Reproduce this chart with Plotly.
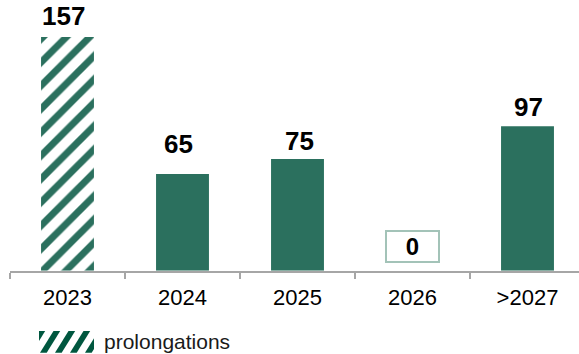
import plotly.graph_objects as go

# ---- data ----
years = ["2023", "2024", "2025", "2026", ">2027"]
volumes = [157, 65, 75, 0, 97]
hatch = ["/", "", "", "", ""]
legend_label = "prolongations"

# ---- layout constants (pixels) ----
W, H = 579, 354
LEFT = 10            # left edge of the category axis
CAT_W = 115          # width of one category slot
AXIS_Y = 270.7       # baseline of the bars
TOP_VAL_PX = 37      # where the tallest bar ends
GREEN = "#2B705E"
DARK_GREEN = "#00573F"
AXIS_GREY = "#A6A6A6"
ZERO_BOX = "#A3C3B8"

# per-label nudges for the value labels
label_dy = [4, 13, 1, 7.5, 2]
label_dx = [-4, -4, 2, 0, 1]

y_top = max(volumes) * AXIS_Y / (AXIS_Y - TOP_VAL_PX)
x_span = (W - LEFT) / CAT_W

fig = go.Figure(
    go.Bar(
        x=years,
        y=volumes,
        width=0.46,
        marker=dict(
            color=GREEN,
            line=dict(width=0),
            pattern=dict(shape=hatch, size=16.5, solidity=0.42,
                         fgcolor=GREEN, bgcolor="white", fgopacity=1),
        ),
        hoverinfo="skip",
        showlegend=False,
    )
)

# value labels (x given as category index so "2023" is not read as a number)
for i, val in enumerate(volumes):
    if val == 0:
        fig.add_annotation(
            x=i, y=0, xref="x", yref="y", text=str(val), showarrow=False,
            yanchor="bottom", xanchor="center", yshift=label_dy[i], xshift=label_dx[i],
            font=dict(family="Liberation Sans, Arial", size=24, color="black", weight="bold"),
            bordercolor=ZERO_BOX, borderwidth=2, borderpad=1, width=49, height=27,
            bgcolor="white",
        )
    else:
        fig.add_annotation(
            x=i, y=val, xref="x", yref="y", text=str(val), showarrow=False,
            yanchor="bottom", xanchor="center", yshift=label_dy[i], xshift=label_dx[i],
            font=dict(family="Liberation Sans, Arial", size=26, color="black", weight="bold"),
        )


# ---- legend key: hatched swatch built from clipped stripes ----
def clip_poly(pts, x0, y0, x1, y1):
    def clip(points, inside, inter):
        out = []
        n = len(points)
        for k in range(n):
            cur, prev = points[k], points[k - 1]
            if inside(cur):
                if not inside(prev):
                    out.append(inter(prev, cur))
                out.append(cur)
            elif inside(prev):
                out.append(inter(prev, cur))
        return out

    def ix(xc):
        return lambda a, b: (xc, a[1] + (b[1] - a[1]) * (xc - a[0]) / (b[0] - a[0]))

    def iy(yc):
        return lambda a, b: (a[0] + (b[0] - a[0]) * (yc - a[1]) / (b[1] - a[1]), yc)

    pts = clip(pts, lambda p: p[0] >= x0, ix(x0)) if pts else pts
    pts = clip(pts, lambda p: p[0] <= x1, ix(x1)) if pts else pts
    pts = clip(pts, lambda p: p[1] >= y0, iy(y0)) if pts else pts
    pts = clip(pts, lambda p: p[1] <= y1, iy(y1)) if pts else pts
    return pts


sw_x0, sw_x1, sw_y0, sw_y1 = 39, 94, 331, 352.7
period, stripe_w = 15, 6.7
lean = 13.5  # horizontal shift from bottom to top of the swatch
for k in range(-2, 5):
    u = 40 + period * k
    poly = [(u, sw_y1), (u + stripe_w, sw_y1),
            (u + stripe_w + lean, sw_y0), (u + lean, sw_y0)]
    poly = clip_poly(poly, sw_x0, sw_y0, sw_x1, sw_y1)
    if len(poly) < 3:
        continue
    path = "M" + "L".join(f"{px / W:.5f},{1 - py / H:.5f}" for px, py in poly) + "Z"
    fig.add_shape(type="path", path=path, xref="paper", yref="paper",
                  fillcolor=DARK_GREEN, line=dict(width=0), layer="above")

fig.add_annotation(
    x=101.5 / W, y=1 - 341.5 / H, xref="paper", yref="paper", text=legend_label,
    showarrow=False, xanchor="left", yanchor="middle",
    font=dict(family="Liberation Sans, Arial", size=21, color="#1a1a1a"),
)

fig.update_layout(
    width=W, height=H,
    margin=dict(l=0, r=0, t=0, b=0),
    paper_bgcolor="white", plot_bgcolor="white",
    bargap=0.54,
    xaxis=dict(
        domain=[LEFT / W, 1],
        range=[-0.5, -0.5 + x_span],
        type="category",
        showline=True, linecolor=AXIS_GREY, linewidth=2,
        ticks="outside", tickson="boundaries", ticklen=6, tickwidth=2, tickcolor=AXIS_GREY,
        tickfont=dict(family="Liberation Sans, Arial", size=22, color="black"),
        ticklabelstandoff=6,
        showgrid=False, zeroline=False, fixedrange=True,
    ),
    yaxis=dict(
        domain=[(H - AXIS_Y) / H, 1],
        range=[0, y_top],
        visible=False, showgrid=False, zeroline=False, fixedrange=True,
    ),
)

fig.write_html("out.html")
